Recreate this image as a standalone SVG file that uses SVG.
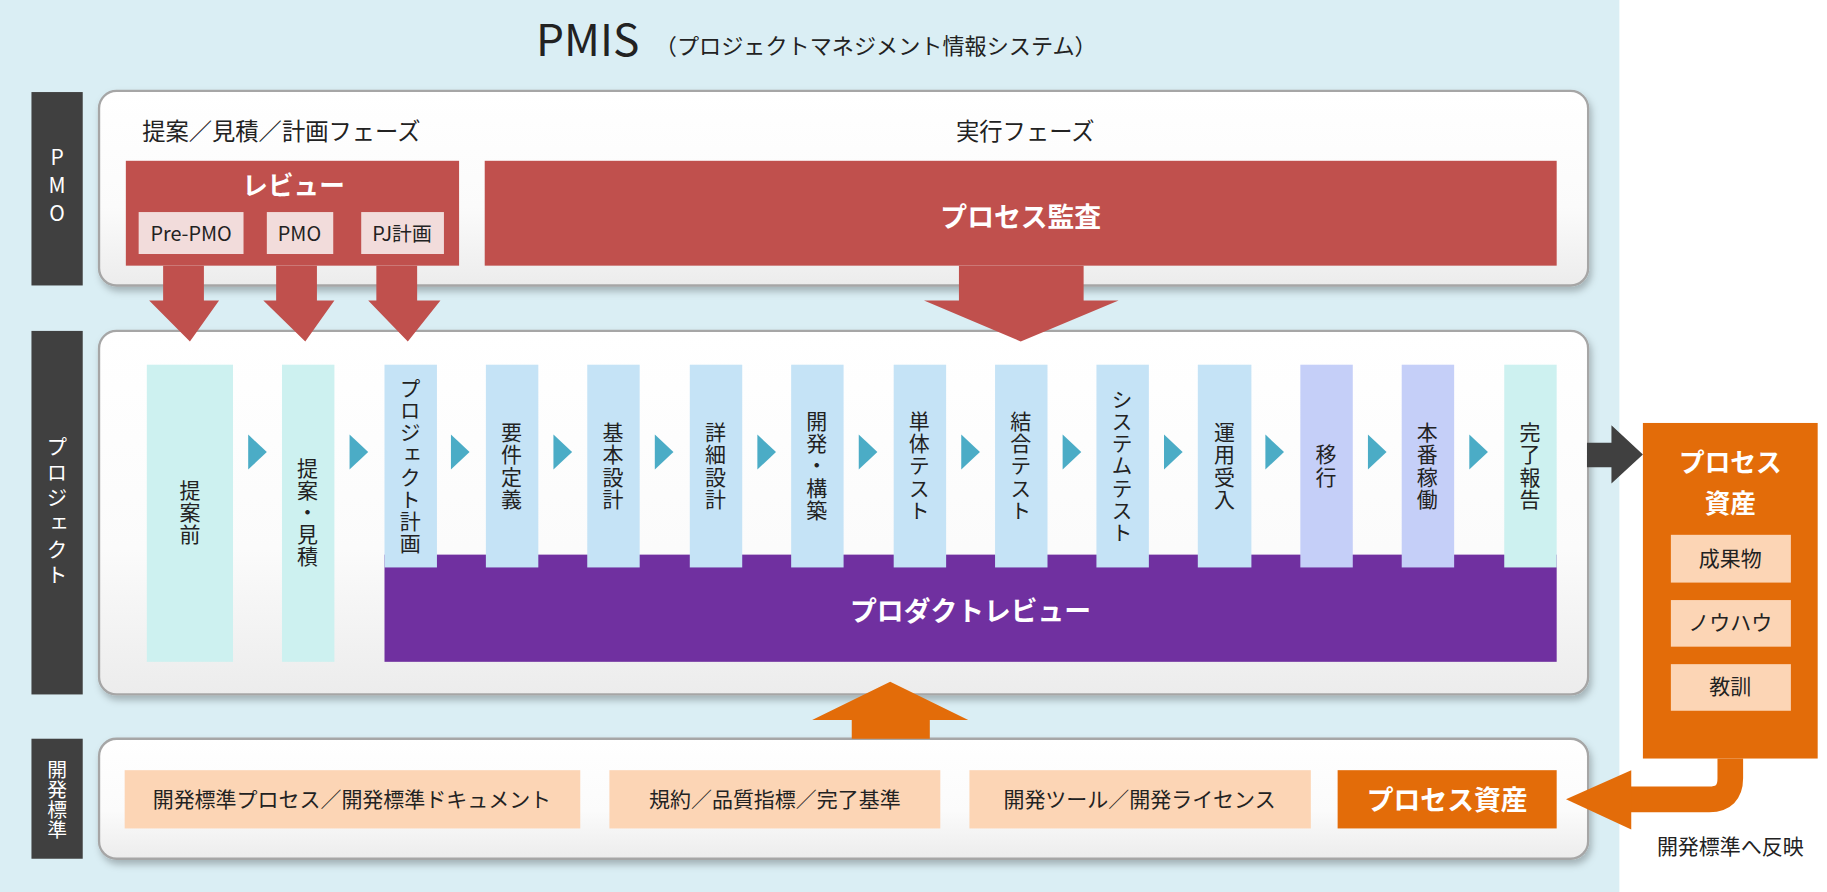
<svg xmlns="http://www.w3.org/2000/svg" width="1827" height="892" viewBox="0 0 1827 892">
<defs>
<linearGradient id="pg" x1="0" y1="0" x2="0" y2="1"><stop offset="0" stop-color="#ffffff"/><stop offset="0.6" stop-color="#fbfbfb"/><stop offset="1" stop-color="#ececec"/></linearGradient>
<filter id="sh" x="-5%" y="-10%" width="110%" height="130%"><feDropShadow dx="2" dy="4" stdDeviation="3" flood-color="#000" flood-opacity="0.25"/></filter>
<polygon id="tri" points="0,0 16,15 0,30" fill="#4bacc6"/>
</defs>
<style>
text{font-family:"Noto Sans CJK JP","Noto Sans",sans-serif;fill:#222}
.panel{fill:url(#pg);stroke:#a6a6a6;stroke-width:2;filter:url(#sh)}
.lbl{fill:#404040}
.wl{fill:#fff;font-size:19px}
.wb{fill:#fff;font-weight:bold}
.v{writing-mode:tb;font-size:18px;text-anchor:middle;letter-spacing:1px}
.c1{fill:#cdf1f0}.c2{fill:#c5e3f6}.c3{fill:#c5cff8}
.red{fill:#c0504d}.pk{fill:#f2dcdb}.or{fill:#e36c09}.pe{fill:#fcd5b5}
.m{text-anchor:middle}
</style>
<g transform="scale(1.16518)">
<rect x="0" y="0" width="1390" height="766" fill="#daeef4"/>
<rect x="1390" y="0" width="178" height="766" fill="#fff"/>
<g id="title"><text x="460" y="48" font-size="38">PMIS</text><text x="562" y="46" font-size="19">（プロジェクトマネジメント情報システム）</text></g>

<g id="lane-pmo"><rect class="lbl" x="27" y="79" width="44" height="166"/><text class="wl v" x="49" y="162" style="letter-spacing:6px;text-orientation:upright">PMO</text></g>
<g id="lane-pj"><rect class="lbl" x="27" y="284" width="44" height="312"/><text class="wl v" x="49" y="440" style="letter-spacing:4px">プロジェクト</text></g>
<g id="lane-dev"><rect class="lbl" x="27" y="634" width="44" height="103"/><text class="wl v" x="49" y="686" style="font-size:17px;letter-spacing:0">開発標準</text></g>

<rect class="panel" x="85" y="78" width="1278" height="167" rx="15"/>
<rect class="panel" x="85" y="284" width="1278" height="312" rx="15"/>
<rect class="panel" x="85" y="634" width="1278" height="103" rx="15"/>

<text x="122" y="120" font-size="20">提案／見積／計画フェーズ</text>
<text class="m" x="880" y="120" font-size="20">実行フェーズ</text>

<g id="connectors">
<polygon class="red" points="140,228 175,228 175,258 188,258 163,293 128,258 140,258"/>
<polygon class="red" points="237,228 272,228 272,258 287,258 262,293 226,258 237,258"/>
<polygon class="red" points="323,228 358,228 358,258 378,258 350,293 316,258 323,258"/>
<polygon class="red" points="823,228 930,228 930,258 960,258 876,293 793,258 823,258"/>
<polygon fill="#404040" points="1362,380 1383,380 1383,365 1410,390 1383,415 1383,401 1362,401"/>
<path d="M1485,651 V668 Q1485,686 1467,686 H1395" fill="none" stroke="#e36c09" stroke-width="22"/>
<polygon class="or" points="1400,661 1344,686 1400,712"/>
<polygon class="or" points="731,634 798,634 798,618 831,618 764,585 697,618 731,618"/>
<use href="#tri" x="213" y="373"/><use href="#tri" x="300" y="373"/><use href="#tri" x="387" y="373"/>
<use href="#tri" x="475" y="373"/><use href="#tri" x="562" y="373"/><use href="#tri" x="650" y="373"/>
<use href="#tri" x="737" y="373"/><use href="#tri" x="825" y="373"/><use href="#tri" x="912" y="373"/>
<use href="#tri" x="999" y="373"/><use href="#tri" x="1086" y="373"/><use href="#tri" x="1174" y="373"/>
<use href="#tri" x="1261" y="373"/>
</g>

<g id="review"><rect class="red" x="108" y="138" width="286" height="90"/><text class="wb m" x="252" y="167" font-size="22">レビュー</text>
<rect class="pk" x="119" y="182" width="90" height="36"/><text class="m" x="164" y="207" font-size="17">Pre-PMO</text>
<rect class="pk" x="229" y="182" width="57" height="36"/><text class="m" x="257" y="207" font-size="17">PMO</text>
<rect class="pk" x="310" y="182" width="71" height="36"/><text class="m" x="345" y="207" font-size="17">PJ計画</text></g>
<g id="audit"><rect class="red" x="416" y="138" width="920" height="90"/><text class="wb m" x="876" y="195" font-size="23">プロセス監査</text></g>

<g id="preview"><rect x="330" y="476" width="1006" height="92" fill="#7030a0"/><text class="wb m" x="833" y="533" font-size="23">プロダクトレビュー</text></g>

<g id="cols">
<rect class="c1" x="126" y="313" width="74" height="255"/><text class="v" x="163" y="440">提案前</text>
<rect class="c1" x="242" y="313" width="45" height="255"/><text class="v" x="264" y="440">提案・見積</text>
<rect class="c2" x="330" y="313" width="45" height="174"/><text class="v" x="352" y="400">プロジェクト計画</text>
<rect class="c2" x="417" y="313" width="45" height="174"/><text class="v" x="439" y="400">要件定義</text>
<rect class="c2" x="504" y="313" width="45" height="174"/><text class="v" x="526" y="400">基本設計</text>
<rect class="c2" x="592" y="313" width="45" height="174"/><text class="v" x="614" y="400">詳細設計</text>
<rect class="c2" x="679" y="313" width="45" height="174"/><text class="v" x="701" y="400">開発・構築</text>
<rect class="c2" x="767" y="313" width="45" height="174"/><text class="v" x="789" y="400">単体テスト</text>
<rect class="c2" x="854" y="313" width="45" height="174"/><text class="v" x="876" y="400">結合テスト</text>
<rect class="c2" x="941" y="313" width="45" height="174"/><text class="v" x="963" y="400">システムテスト</text>
<rect class="c2" x="1028" y="313" width="46" height="174"/><text class="v" x="1051" y="400">運用受入</text>
<rect class="c3" x="1116" y="313" width="45" height="174"/><text class="v" x="1138" y="400">移行</text>
<rect class="c3" x="1203" y="313" width="45" height="174"/><text class="v" x="1225" y="400">本番稼働</text>
<rect class="c1" x="1291" y="313" width="45" height="174"/><text class="v" x="1313" y="400">完了報告</text>
</g>

<g id="assets"><rect class="or" x="1410" y="363" width="150" height="288"/>
<text class="wb m" x="1485" y="405" font-size="22">プロセス</text><text class="wb m" x="1485" y="440" font-size="22">資産</text>
<rect class="pe" x="1434" y="459" width="103" height="41"/><text class="m" x="1485" y="486" font-size="18">成果物</text>
<rect class="pe" x="1434" y="515" width="103" height="40"/><text class="m" x="1485" y="541" font-size="18">ノウハウ</text>
<rect class="pe" x="1434" y="570" width="103" height="40"/><text class="m" x="1485" y="596" font-size="18">教訓</text></g>
<text class="m" x="1485" y="733" font-size="18">開発標準へ反映</text>

<g id="dev">
<rect class="pe" x="107" y="661" width="391" height="50"/><text class="m" x="302" y="693" font-size="18">開発標準プロセス／開発標準ドキュメント</text>
<rect class="pe" x="523" y="661" width="284" height="50"/><text class="m" x="665" y="693" font-size="18">規約／品質指標／完了基準</text>
<rect class="pe" x="832" y="661" width="293" height="50"/><text class="m" x="978" y="693" font-size="18">開発ツール／開発ライセンス</text>
<rect class="or" x="1148" y="661" width="188" height="50"/><text class="wb m" x="1242" y="695" font-size="23">プロセス資産</text>
</g>
</g>
</svg>
